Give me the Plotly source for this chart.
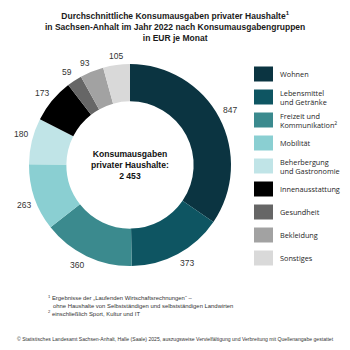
import math
import plotly.graph_objects as go

categories = ["Wohnen", "Lebensmittel<br>und Getränke", "Freizeit und<br>Kommunikation<sup>2</sup>",
              "Mobilität", "Beherbergung<br>und Gastronomie", "Innenausstattung",
              "Gesundheit", "Bekleidung", "Sonstiges"]
values = [847, 373, 360, 263, 180, 173, 59, 93, 105]
colors = ["#0b3441", "#0e5562", "#3b8a8e", "#8acfd2", "#c0e4e7", "#000000",
          "#666666", "#a2a2a2", "#d9d9d9"]
total_label = "2 453"

W = H = 350
def px(x): return x / W
def py(y): return 1 - y / H

cx, cy, r = 130, 165, 101

fig = go.Figure()
fig.add_trace(go.Pie(
    labels=categories, values=values, sort=False, direction="clockwise", rotation=0,
    hole=0.63, marker=dict(colors=colors, line=dict(width=0)),
    textinfo="none",
    domain=dict(x=[px(cx - r), px(cx + r)], y=[py(cy + r), py(cy - r)]),
    showlegend=False, hoverinfo="label+value",
))

annotations = []
shapes = []

# value labels outside the ring: nearest corner of label box sits at each slice's mid-angle
total = sum(values)
cum = 0
R = 104
for v in values:
    th = 2 * math.pi * (cum + v / 2) / total
    cum += v
    s, c = math.sin(th), math.cos(th)
    lx = cx + R * s
    ly = cy - R * c
    xa = "left" if s > 0.15 else ("right" if s < -0.15 else "center")
    ya = "bottom" if c > 0.15 else ("top" if c < -0.15 else "middle")
    annotations.append(dict(
        x=px(lx), y=py(ly), xref="paper", yref="paper", xanchor=xa, yanchor=ya,
        text=str(v), showarrow=False, borderpad=0,
        font=dict(family="Liberation Sans, Arial", size=8.5, color="#333333")))

# title
annotations.append(dict(
    x=0.5, y=py(8), xref="paper", yref="paper", xanchor="center", yanchor="top",
    text="<b>Durchschnittliche Konsumausgaben privater Haushalte<sup>1</sup><br>"
         "in Sachsen-Anhalt im Jahr 2022 nach Konsumausgabengruppen<br>in EUR je Monat</b>",
    showarrow=False, align="center",
    font=dict(family="Liberation Sans, Arial", size=8.5, color="#1a1a1a")))
# centre text
annotations.append(dict(
    x=px(cx), y=py(cy), xref="paper", yref="paper", xanchor="center", yanchor="middle",
    text="<b>Konsumausgaben<br>privater Haushalte:<br>" + total_label + "</b>",
    showarrow=False, align="center",
    font=dict(family="Liberation Sans, Arial", size=8.6, color="#111111")))
# legend
for i, (c, col) in enumerate(zip(categories, colors)):
    yc = 74 + 23 * i
    shapes.append(dict(type="rect", xref="paper", yref="paper",
                       x0=px(254), x1=px(273), y0=py(yc + 7.5), y1=py(yc - 7.5),
                       fillcolor=col, line=dict(width=0)))
    annotations.append(dict(
        x=px(278), y=py(yc), xref="paper", yref="paper", xanchor="left", yanchor="middle",
        text=c, showarrow=False, align="left",
        font=dict(family="Open Sans", size=7.3, color="#1e1e1e")))
# footnotes
annotations.append(dict(
    x=px(46), y=py(292), xref="paper", yref="paper", xanchor="left", yanchor="top",
    text="<sup>1</sup> Ergebnisse der „Laufenden Wirtschaftsrechnungen“ –<br>"
         "   ohne Haushalte von Selbstständigen und selbstständigen Landwirten<br>"
         "<sup>2</sup> einschließlich Sport, Kultur und IT",
    showarrow=False, align="left",
    font=dict(family="Liberation Sans, Arial", size=5.9, color="#333333")))
annotations.append(dict(
    x=0.5, y=py(339), xref="paper", yref="paper", xanchor="center", yanchor="middle",
    text="© Statistisches Landesamt Sachsen-Anhalt, Halle (Saale) 2025, auszugsweise Vervielfältigung und Verbreitung mit Quellenangabe gestattet",
    showarrow=False,
    font=dict(family="Liberation Sans, Arial", size=5.1, color="#333333")))

fig.update_layout(
    width=W, height=H, margin=dict(l=0, r=0, t=0, b=0),
    paper_bgcolor="white", plot_bgcolor="white",
    annotations=annotations, shapes=shapes, showlegend=False,
)
fig.write_html("out.html")
